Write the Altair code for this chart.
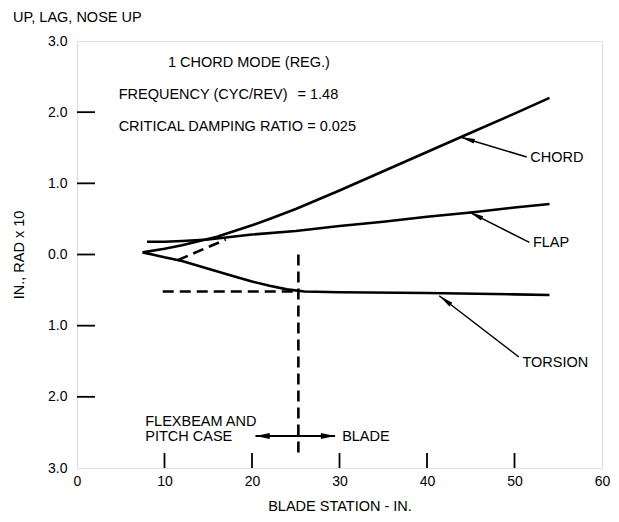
import math
import altair as alt
import pandas as pd

FONT = "Liberation Sans"
FS = 14.5
W, H = 525, 427
XMIN, XMAX, YMIN, YMAX = 0, 60, -3, 3

# ---- mode shape curves (blade station in., displacement in./rad x10) ----
chord_x = [7.5, 10, 12, 14, 16, 18, 20, 22, 25, 30, 35, 40, 45, 50, 54]
chord_y = [0.03, 0.08, 0.13, 0.19, 0.25, 0.33, 0.41, 0.50, 0.64, 0.90, 1.17, 1.44, 1.71, 1.98, 2.20]

flap_x = [8, 10, 12, 15, 20, 25, 30, 35, 40, 45, 50, 54]
flap_y = [0.18, 0.18, 0.19, 0.21, 0.28, 0.33, 0.40, 0.46, 0.53, 0.59, 0.66, 0.71]

torsion_x = [7.5, 10, 12, 15, 18, 20, 22, 24, 26, 30, 40, 50, 54]
torsion_y = [0.03, -0.04, -0.09, -0.20, -0.31, -0.38, -0.44, -0.49, -0.52, -0.53, -0.54, -0.56, -0.57]

dash_chord_x = [11.5, 17.0]
dash_chord_y = [-0.08, 0.21]

# reference dashed lines
hdash_x = [9.8, 25.3]
hdash_y = [-0.52, -0.52]
vdash_x = [25.3, 25.3]
vdash_y = [0.0, -2.85]

# axis ticks
x_ticks = [0, 10, 20, 30, 40, 50, 60]
y_ticks = [-3, -2, -1, 0, 1, 2, 3]
x_inner_ticks = [10, 20, 30, 40, 50]
y_inner_ticks = [-2, -1, 0, 1, 2]

# callouts: label, text x/y, line start x/y, arrow tip x/y
call_labels = ["CHORD", "FLAP", "TORSION"]
call_text_x = [51.8, 52.1, 50.9]
call_text_y = [1.36, 0.16, -1.52]
call_start_x = [51.4, 51.7, 50.5]
call_start_y = [1.37, 0.17, -1.44]
call_tip_x = [43.8, 44.8, 41.4]
call_tip_y = [1.65, 0.60, -0.58]

# region arrow (flexbeam / blade)
region_x = [20.4, 29.5]
region_y = [-2.55, -2.55]

# annotation texts
ann_text = ["1 CHORD MODE (REG.)", "FREQUENCY (CYC/REV)", "= 1.48",
            "CRITICAL DAMPING RATIO = 0.025", "FLEXBEAM AND", "PITCH CASE", "BLADE"]
ann_x = [10.4, 4.76, 25.2, 4.76, 7.8, 7.8, 30.3]
ann_y = [2.69, 2.24, 2.24, 1.79, -2.36, -2.57, -2.56]

PX_X = W / (XMAX - XMIN)
PX_Y = H / (YMAX - YMIN)


def angle_of(x0, y0, x1, y1):
    dx = (x1 - x0) * PX_X
    dy = -(y1 - y0) * PX_Y
    return math.degrees(math.atan2(dx, -dy)) % 360


xs = alt.Scale(domain=[XMIN, XMAX], nice=False, zero=False)
ys = alt.Scale(domain=[YMIN, YMAX], nice=False, zero=False)

curves = pd.DataFrame(
    [{"s": "chord", "x": a, "y": b, "o": i} for i, (a, b) in enumerate(zip(chord_x, chord_y))]
    + [{"s": "flap", "x": a, "y": b, "o": i} for i, (a, b) in enumerate(zip(flap_x, flap_y))]
    + [{"s": "torsion", "x": a, "y": b, "o": i} for i, (a, b) in enumerate(zip(torsion_x, torsion_y))]
)
dashes = pd.DataFrame(
    [{"s": "dc", "x": a, "y": b, "o": i} for i, (a, b) in enumerate(zip(dash_chord_x, dash_chord_y))]
    + [{"s": "h", "x": a, "y": b, "o": i} for i, (a, b) in enumerate(zip(hdash_x, hdash_y))]
    + [{"s": "v", "x": a, "y": b, "o": i} for i, (a, b) in enumerate(zip(vdash_x, vdash_y))]
)

base_x = alt.X("x:Q", scale=xs, axis=alt.Axis(
    values=x_ticks, title="BLADE STATION - IN.", tickSize=0, domain=False, grid=False,
    labelFont=FONT, labelFontSize=14, labelColor="black", labelPadding=6,
    labelFlush=False, titleFont=FONT, titleFontSize=FS, titleFontWeight="normal",
    titleColor="black", titlePadding=11))
base_y = alt.Y("y:Q", scale=ys, axis=alt.Axis(
    values=y_ticks, title="IN., RAD x 10", tickSize=0, domain=False, grid=False,
    labelExpr="format(abs(datum.value), '.1f')",
    labelFont=FONT, labelFontSize=14, labelColor="black", labelPadding=10,
    labelFlush=False, titleFont=FONT, titleFontSize=FS, titleFontWeight="normal",
    titleColor="black", titlePadding=21))

lines = alt.Chart(curves).mark_line(color="black", strokeWidth=2.6).encode(
    x=base_x, y=base_y, detail="s:N", order="o:Q")

dash_layer = alt.Chart(dashes).mark_line(color="black", strokeWidth=2.6, strokeDash=[11, 6]).encode(
    x=alt.X("x:Q", scale=xs), y=alt.Y("y:Q", scale=ys), detail="s:N", order="o:Q")

xt = alt.Chart(pd.DataFrame({"x": x_inner_ticks})).mark_rule(color="black", strokeWidth=1.8).encode(
    x=alt.X("x:Q", scale=xs), y=alt.value(H), y2=alt.value(H - 15))
yt = alt.Chart(pd.DataFrame({"y": y_inner_ticks})).mark_rule(color="black", strokeWidth=1.8).encode(
    y=alt.Y("y:Q", scale=ys), x=alt.value(0), x2=alt.value(18))

callouts = pd.DataFrame({
    "label": call_labels, "tx": call_text_x, "ty": call_text_y,
    "x": call_start_x, "y": call_start_y, "x2": call_tip_x, "y2": call_tip_y,
    "ang": [angle_of(a, b, c, d) for a, b, c, d in zip(call_start_x, call_start_y, call_tip_x, call_tip_y)],
})
call_lines = alt.Chart(callouts).mark_rule(color="black", strokeWidth=1.5).encode(
    x=alt.X("x:Q", scale=xs), y=alt.Y("y:Q", scale=ys), x2="x2:Q", y2="y2:Q")
ARROW = "M0,0 L0.45,2.8 L-0.45,2.8 Z"
call_heads = alt.Chart(callouts).mark_point(
    shape=ARROW, filled=True, color="black", opacity=1, size=110, strokeWidth=0).encode(
    x=alt.X("x2:Q", scale=xs), y=alt.Y("y2:Q", scale=ys), angle=alt.Angle("ang:Q", scale=None))
call_text = alt.Chart(callouts).mark_text(
    align="left", baseline="middle", font=FONT, fontSize=FS, color="black").encode(
    x=alt.X("tx:Q", scale=xs), y=alt.Y("ty:Q", scale=ys), text="label:N")

region = pd.DataFrame({"x": [region_x[0]], "y": [region_y[0]], "x2": [region_x[1]], "y2": [region_y[1]]})
region_line = alt.Chart(region).mark_rule(color="black", strokeWidth=2).encode(
    x=alt.X("x:Q", scale=xs), y=alt.Y("y:Q", scale=ys), x2="x2:Q", y2="y2:Q")
region_heads_df = pd.DataFrame({
    "x": region_x, "y": region_y,
    "ang": [angle_of(region_x[1], region_y[1], region_x[0], region_y[0]),
            angle_of(region_x[0], region_y[0], region_x[1], region_y[1])],
})
region_heads = alt.Chart(region_heads_df).mark_point(
    shape="M0,0 L0.55,2.6 L-0.55,2.6 Z", filled=True, color="black", opacity=1, size=120,
    strokeWidth=0).encode(
    x=alt.X("x:Q", scale=xs), y=alt.Y("y:Q", scale=ys), angle=alt.Angle("ang:Q", scale=None))

ann = pd.DataFrame({"t": ann_text, "x": ann_x, "y": ann_y})
ann_layer = alt.Chart(ann).mark_text(
    align="left", baseline="middle", font=FONT, fontSize=FS, color="black").encode(
    x=alt.X("x:Q", scale=xs), y=alt.Y("y:Q", scale=ys), text="t:N")

chart = alt.layer(
    lines, dash_layer, xt, yt, call_lines, call_heads, call_text,
    region_line, region_heads, ann_layer,
).properties(
    width=W, height=H,
    autosize=alt.AutoSizeParams(type="none"),
    padding={"left": 69, "top": 33, "right": 9, "bottom": 44},
    title=alt.TitleParams("UP, LAG, NOSE UP", anchor="start", frame="group", dx=-64,
                          offset=9, font=FONT, fontSize=FS, fontWeight="normal", color="black"),
).configure_view(stroke="black", strokeWidth=2.2).configure(background="white")

chart.save("out.html", embed_options={"renderer": "svg", "actions": False})
